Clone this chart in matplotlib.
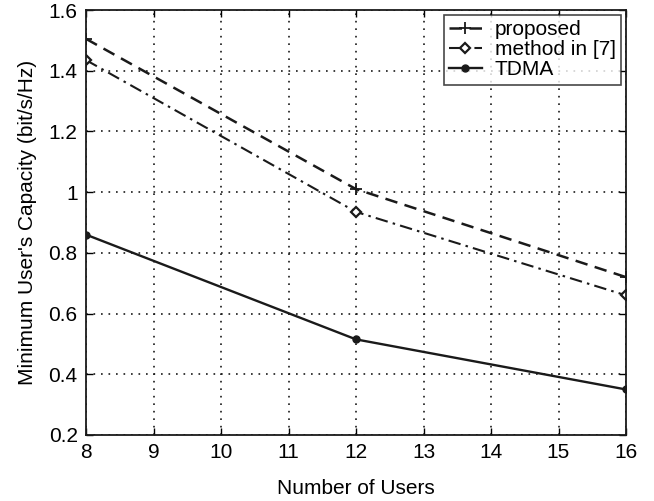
import matplotlib
matplotlib.use("Agg")
import matplotlib.pyplot as plt

users = [8, 12, 16]
proposed = [1.505, 1.01, 0.72]
method7 = [1.435, 0.935, 0.66]
tdma = [0.86, 0.515, 0.35]

plt.rcParams['font.family'] = ['Liberation Sans', 'DejaVu Sans']

fig = plt.figure(figsize=(6.54, 5.01), dpi=100)
ax = fig.add_axes([86 / 654, 1 - 435 / 501, (626 - 86) / 654, (435 - 10) / 501])

ax.plot(users, proposed, color='#1a1a1a', linestyle=(0, (5, 3)), linewidth=1.8,
        marker='+', markersize=8, markeredgewidth=1.3, label='proposed')
ax.plot(users, method7, color='#1a1a1a', linestyle=(0, (6, 2.5, 1.2, 2.5)), linewidth=1.5,
        marker='D', markersize=5.5, markerfacecolor='white', markeredgewidth=1.6, label='method in [7]')
ax.plot(users, tdma, color='#1a1a1a', linestyle='-', linewidth=1.7,
        marker='o', markersize=5, label='TDMA')

ax.set_xlim(8, 16)
ax.set_ylim(0.2, 1.6)
ax.set_xticks(range(8, 17))
ax.set_yticks([0.2, 0.4, 0.6, 0.8, 1.0, 1.2, 1.4, 1.6])
ax.set_yticklabels(['0.2', '0.4', '0.6', '0.8', '1', '1.2', '1.4', '1.6'])
ax.grid(True, color='#1a1a1a', linestyle=(0, (1, 3.5)), linewidth=1.2)
ax.tick_params(direction='in', labelsize=15, length=5, width=1, top=True, right=True, pad=6)
for s in ax.spines.values():
    s.set_linewidth(1.3)
    s.set_color('#1a1a1a')

ax.set_xlabel('Number of Users', fontsize=15, labelpad=12)
ax.set_ylabel("Minimum User's Capacity (bit/s/Hz)", fontsize=15, labelpad=8)

leg = ax.legend(loc='upper right', fontsize=15, frameon=True, fancybox=False,
                edgecolor='#1a1a1a', handlelength=1.6, borderaxespad=0.25,
                labelspacing=0.05, borderpad=0.25, handletextpad=0.6)
leg.get_frame().set_linewidth(1.2)

fig.savefig('out.png', dpi=100)
plt.close(fig)
